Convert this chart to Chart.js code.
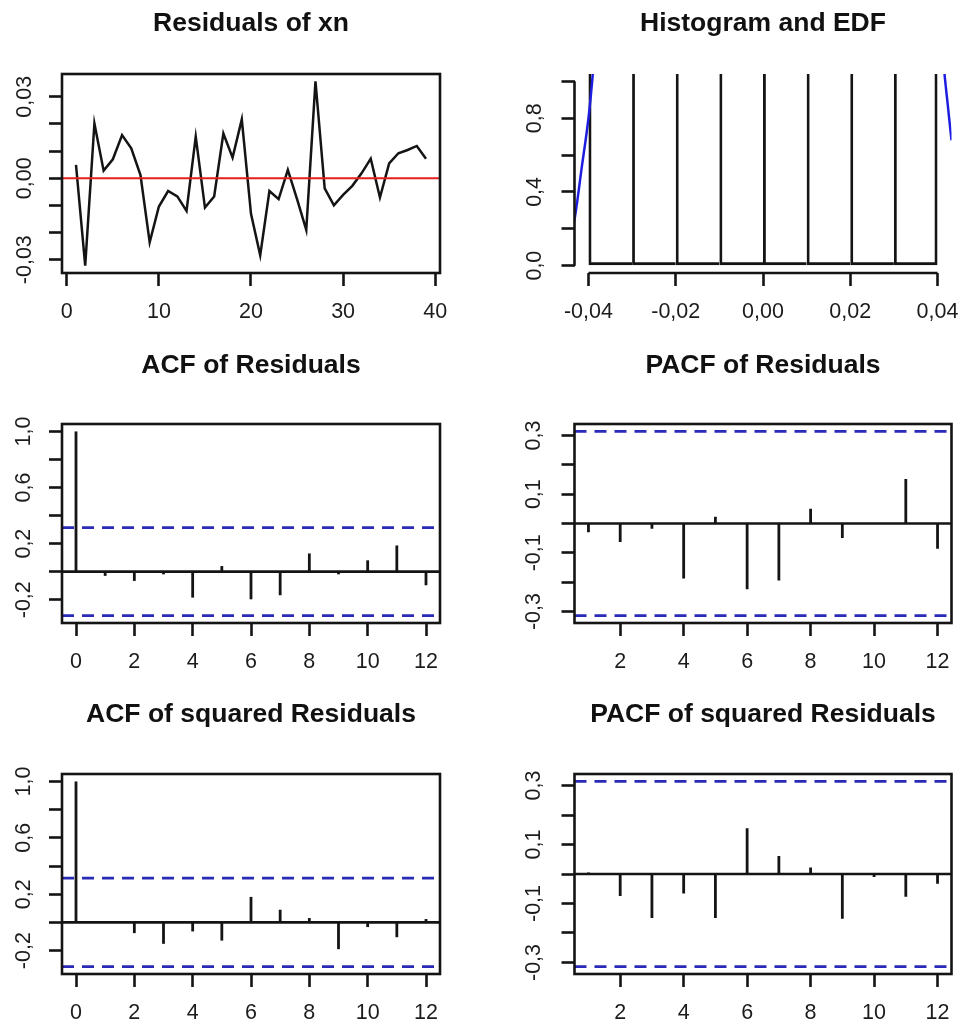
<!DOCTYPE html>
<html>
<head>
<meta charset="utf-8">
<script src="https://cdn.jsdelivr.net/npm/chart.js@4.4.1/dist/chart.umd.min.js"></script>
<style>
html, body { margin: 0; padding: 0; background: #ffffff; width: 962px; height: 1023px; overflow: hidden; }
canvas { position: absolute; display: block; }
</style>
</head>
<body>
<canvas id="c1" width="481" height="341" style="left:0px;top:0px;width:481px;height:341px"></canvas>
<canvas id="c2" width="481" height="341" style="left:481px;top:0px;width:481px;height:341px"></canvas>
<canvas id="c3" width="481" height="350" style="left:0px;top:341px;width:481px;height:350px"></canvas>
<canvas id="c4" width="481" height="350" style="left:481px;top:341px;width:481px;height:350px"></canvas>
<canvas id="c5" width="481" height="332" style="left:0px;top:691px;width:481px;height:332px"></canvas>
<canvas id="c6" width="481" height="332" style="left:481px;top:691px;width:481px;height:332px"></canvas>
<script>
// ---------------- DATA ----------------
const residIndex = [1,2,3,4,5,6,7,8,9,10,11,12,13,14,15,16,17,18,19,20,21,22,23,24,25,26,27,28,29,30,31,32,33,34,35,36,37,38,39];
const residValues = [0.0049, -0.0322, 0.0202, 0.0028, 0.0070, 0.0159, 0.0110, 0.0012, -0.0236, -0.0104,
                     -0.0047, -0.0067, -0.0120, 0.0153, -0.0108, -0.0067, 0.0165, 0.0076, 0.0217, -0.0131,
                     -0.0284, -0.0047, -0.0077, 0.0031, -0.0077, -0.0190, 0.0357, -0.0037, -0.0100, -0.0061,
                     -0.0028, 0.0018, 0.0072, -0.0071, 0.0055, 0.0092, 0.0104, 0.0119, 0.0072];
const residXTicks = [0, 10, 20, 30, 40];
const residYTicks = [-0.03, -0.02, -0.01, 0, 0.01, 0.02, 0.03];
const residYLabelled = [-0.03, 0, 0.03];

const histBinMids = [-0.035, -0.025, -0.015, -0.005, 0.005, 0.015, 0.025, 0.035];
const histDensity = [2.56, 5.13, 15.38, 25.64, 28.21, 15.38, 5.13, 2.56];
const curveLeftX  = [-0.0445, -0.0432, -0.0415, -0.0400, -0.0390, -0.0384];
const curveLeftY  = [0.12, 0.25, 0.54, 0.80, 1.04, 1.22];
const curveRightX = [0.0411, 0.0416, 0.0424, 0.0432, 0.0440];
const curveRightY = [1.18, 1.04, 0.86, 0.68, 0.53];
const histXTicks = [-0.04, -0.02, 0, 0.02, 0.04];
const histYTicks = [0, 0.2, 0.4, 0.6, 0.8, 1.0];
const histYLabelled = [0, 0.4, 0.8];

const acfLags = [0,1,2,3,4,5,6,7,8,9,10,11,12];
const pacfLags = [1,2,3,4,5,6,7,8,9,10,11,12];
const acfResid  = [1.0, -0.030, -0.066, -0.019, -0.185, 0.040, -0.197, -0.168, 0.130, -0.019, 0.081, 0.187, -0.097];
const pacfResid = [-0.030, -0.063, -0.018, -0.187, 0.023, -0.224, -0.194, 0.050, -0.049, 0.002, 0.152, -0.086];
const acfSq  = [1.0, 0.005, -0.076, -0.152, -0.064, -0.129, 0.181, 0.090, 0.031, -0.190, -0.033, -0.105, 0.024];
const pacfSq = [0.005, -0.075, -0.149, -0.066, -0.149, 0.155, 0.061, 0.022, -0.152, -0.010, -0.077, -0.033];
const ciBound = 0.314;
const acfXTicks = [0, 2, 4, 6, 8, 10, 12];
const pacfXTicks = [2, 4, 6, 8, 10, 12];
const acfYTicks = [-0.2, 0, 0.2, 0.4, 0.6, 0.8, 1.0];
const acfYLabelled = [-0.2, 0.2, 0.6, 1.0];
const pacfYTicks = [-0.3, -0.2, -0.1, 0, 0.1, 0.2, 0.3];
const pacfYLabelled = [-0.3, -0.1, 0.1, 0.3];

// ---------------- STYLE / HELPERS ----------------
const FONT = "'Liberation Sans', Arial, Helvetica, sans-serif";
const INK = '#141414';
const LBL = '#1c1c1c';
const RED = '#e3201b';
const DASHBLUE = '#2a2ab8';
const CURVEBLUE = '#1e1ee0';
const TICKFONT = 21.5;
const TITLEFONT = 26.5;

function fmt(v, d) {
  const s = Math.abs(v) < 1e-12 ? (0).toFixed(d) : v.toFixed(d);
  return s.replace('.', ',');
}
function pts(xs, ys) { return xs.map((x, i) => ({x: x, y: ys[i]})); }

function axis(o) {
  const isY = o.pos === 'left';
  return {
    type: 'linear', position: o.pos, min: o.min, max: o.max, offset: false, bounds: 'data',
    afterBuildTicks(s) { s.ticks = o.ticks.map(v => ({value: v})); },
    afterFit(s) {
      if (isY) s.width = o.size; else s.height = o.size;
      s.paddingLeft = 0; s.paddingRight = 0; s.paddingTop = 0; s.paddingBottom = 0;
    },
    border: {display: false},
    grid: {display: true, drawOnChartArea: false, drawTicks: true, tickLength: 13, tickWidth: 2.6, tickColor: INK, offset: false},
    ticks: {
      autoSkip: false, padding: o.pad, color: LBL, font: {family: FONT, size: TICKFONT},
      minRotation: isY ? 90 : 0, maxRotation: isY ? 90 : 0,
      crossAlign: isY ? 'center' : 'near',
      callback(v) {
        const lab = o.labelled || o.ticks;
        return lab.some(l => Math.abs(l - v) < 1e-9) ? fmt(v, o.dec) : '';
      }
    }
  };
}

const framePlugin = {
  id: 'rframe',
  afterDatasetsDraw(chart, args, opts) {
    const ctx = chart.ctx, a = chart.chartArea, x = chart.scales.x, y = chart.scales.y;
    ctx.save();
    ctx.strokeStyle = INK; ctx.lineWidth = 2.6; ctx.setLineDash([]);
    if (opts.mode === 'box') {
      ctx.strokeRect(a.left, a.top, a.right - a.left, a.bottom - a.top);
    } else if (opts.mode === 'axes') {
      const xt = x.ticks, yt = y.ticks;
      ctx.beginPath();
      ctx.moveTo(x.getPixelForValue(xt[0].value), a.bottom);
      ctx.lineTo(x.getPixelForValue(xt[xt.length - 1].value), a.bottom);
      ctx.moveTo(a.left, y.getPixelForValue(yt[0].value));
      ctx.lineTo(a.left, y.getPixelForValue(yt[yt.length - 1].value));
      ctx.stroke();
    }
    ctx.restore();
  }
};

function base(title, tp, frame, padRight) {
  return {
    responsive: false, animation: false, devicePixelRatio: 1, events: [],
    layout: {autoPadding: false, padding: {left: 0, right: padRight, top: 0, bottom: 0}},
    plugins: {
      legend: {display: false}, tooltip: {enabled: false},
      title: {display: true, text: title, fullSize: false, color: '#111111',
              font: {family: FONT, size: TITLEFONT, weight: 'bold', lineHeight: 1.2},
              padding: {top: tp[0], bottom: tp[1]}},
      rframe: {mode: frame}
    }
  };
}

function hline(xmin, xmax, yv, color, width, dash) {
  return {type: 'line', data: [{x: xmin, y: yv}, {x: xmax, y: yv}], borderColor: color, borderWidth: width,
          borderDash: dash || [], pointRadius: 0, fill: false, tension: 0};
}

// rows: title paddings and x-axis heights
const ROW = [
  {tp: [8.1, 34.1], xh: 68},
  {tp: [9.1, 42.1], xh: 68},
  {tp: [7.3, 43.9], xh: 49}
];
const LEFT = {yw: 62, pr: 41};
const RIGHT = {yw: 93.5, pr: 10.5};
const XPAD = 13.1;

// ---------------- 1. Residuals of xn ----------------
(function () {
  const xr = [-0.52, 40.52];
  const o = base('Residuals of xn', ROW[0].tp, 'box', LEFT.pr);
  o.scales = {
    x: axis({pos: 'bottom', min: xr[0], max: xr[1], ticks: residXTicks, dec: 0, pad: XPAD, size: ROW[0].xh}),
    y: axis({pos: 'left', min: -0.0349, max: 0.0384, ticks: residYTicks, labelled: residYLabelled, dec: 2, pad: -1, size: LEFT.yw})
  };
  new Chart(document.getElementById('c1'), {
    type: 'line',
    data: {datasets: [
      Object.assign(hline(xr[0], xr[1], 0, RED, 2.2), {order: 0}),
      {type: 'line', data: pts(residIndex, residValues), borderColor: INK, borderWidth: 2.5, pointRadius: 0,
       tension: 0, fill: false, order: 1}
    ]},
    options: o,
    plugins: [framePlugin]
  });
})();

// ---------------- 2. Histogram and EDF ----------------
(function () {
  const o = base('Histogram and EDF', ROW[0].tp, 'axes', RIGHT.pr);
  o.scales = {
    x: axis({pos: 'bottom', min: -0.0432, max: 0.0432, ticks: histXTicks, dec: 2, pad: XPAD, size: ROW[0].xh}),
    y: axis({pos: 'left', min: -0.04, max: 1.04, ticks: histYTicks, labelled: histYLabelled, dec: 1, pad: 11.6, size: RIGHT.yw})
  };
  const n = histDensity.length;
  new Chart(document.getElementById('c2'), {
    type: 'bar',
    data: {datasets: [
      {type: 'bar', data: pts(histBinMids, histDensity), backgroundColor: 'rgba(0,0,0,0)', borderColor: INK,
       borderWidth: (c) => ({left: 2.8, right: c.dataIndex === n - 1 ? 2.8 : 0, top: 0, bottom: 2.8}),
       borderSkipped: false, inflateAmount: 0, barPercentage: 1, categoryPercentage: 1, grouped: false, order: 2},
      {type: 'line', data: pts(curveLeftX, curveLeftY), borderColor: CURVEBLUE, borderWidth: 2.5, pointRadius: 0,
       cubicInterpolationMode: 'monotone', fill: false, order: 0},
      {type: 'line', data: pts(curveRightX, curveRightY), borderColor: CURVEBLUE, borderWidth: 2.5, pointRadius: 0,
       cubicInterpolationMode: 'monotone', fill: false, order: 0}
    ]},
    options: o,
    plugins: [framePlugin]
  });
})();

// ---------------- ACF / PACF panels ----------------
function corrChart(id, title, row, col, lags, vals, xr, yr, xTicks, yTicks, yLab, ypad) {
  const o = base(title, ROW[row].tp, 'box', col.pr);
  o.scales = {
    x: axis({pos: 'bottom', min: xr[0], max: xr[1], ticks: xTicks, dec: 0, pad: XPAD, size: ROW[row].xh}),
    y: axis({pos: 'left', min: yr[0], max: yr[1], ticks: yTicks, labelled: yLab, dec: 1, pad: ypad, size: col.yw})
  };
  new Chart(document.getElementById(id), {
    type: 'bar',
    data: {datasets: [
      {type: 'bar', data: pts(lags, vals), backgroundColor: INK, borderWidth: 0, barThickness: 2.8,
       grouped: false, inflateAmount: 0, order: 1},
      Object.assign(hline(xr[0], xr[1], 0, INK, 2.6), {order: 2}),
      Object.assign(hline(xr[0], xr[1], ciBound, DASHBLUE, 2.8, [12, 8]), {order: 0}),
      Object.assign(hline(xr[0], xr[1], -ciBound, DASHBLUE, 2.8, [12, 8]), {order: 0})
    ]},
    options: o,
    plugins: [framePlugin]
  });
}

const acfXR = [-0.48, 12.48], pacfXR = [0.56, 12.44];
const acfYR = [-0.366, 1.053], pacfYR = [-0.339, 0.339];

corrChart('c3', 'ACF of Residuals', 1, LEFT, acfLags, acfResid, acfXR, acfYR, acfXTicks, acfYTicks, acfYLabelled, 6);
corrChart('c4', 'PACF of Residuals', 1, RIGHT, pacfLags, pacfResid, pacfXR, pacfYR, pacfXTicks, pacfYTicks, pacfYLabelled, 9);
corrChart('c5', 'ACF of squared Residuals', 2, LEFT, acfLags, acfSq, acfXR, acfYR, acfXTicks, acfYTicks, acfYLabelled, 6);
corrChart('c6', 'PACF of squared Residuals', 2, RIGHT, pacfLags, pacfSq, pacfXR, pacfYR, pacfXTicks, pacfYTicks, pacfYLabelled, 9);
</script>
</body>
</html>
